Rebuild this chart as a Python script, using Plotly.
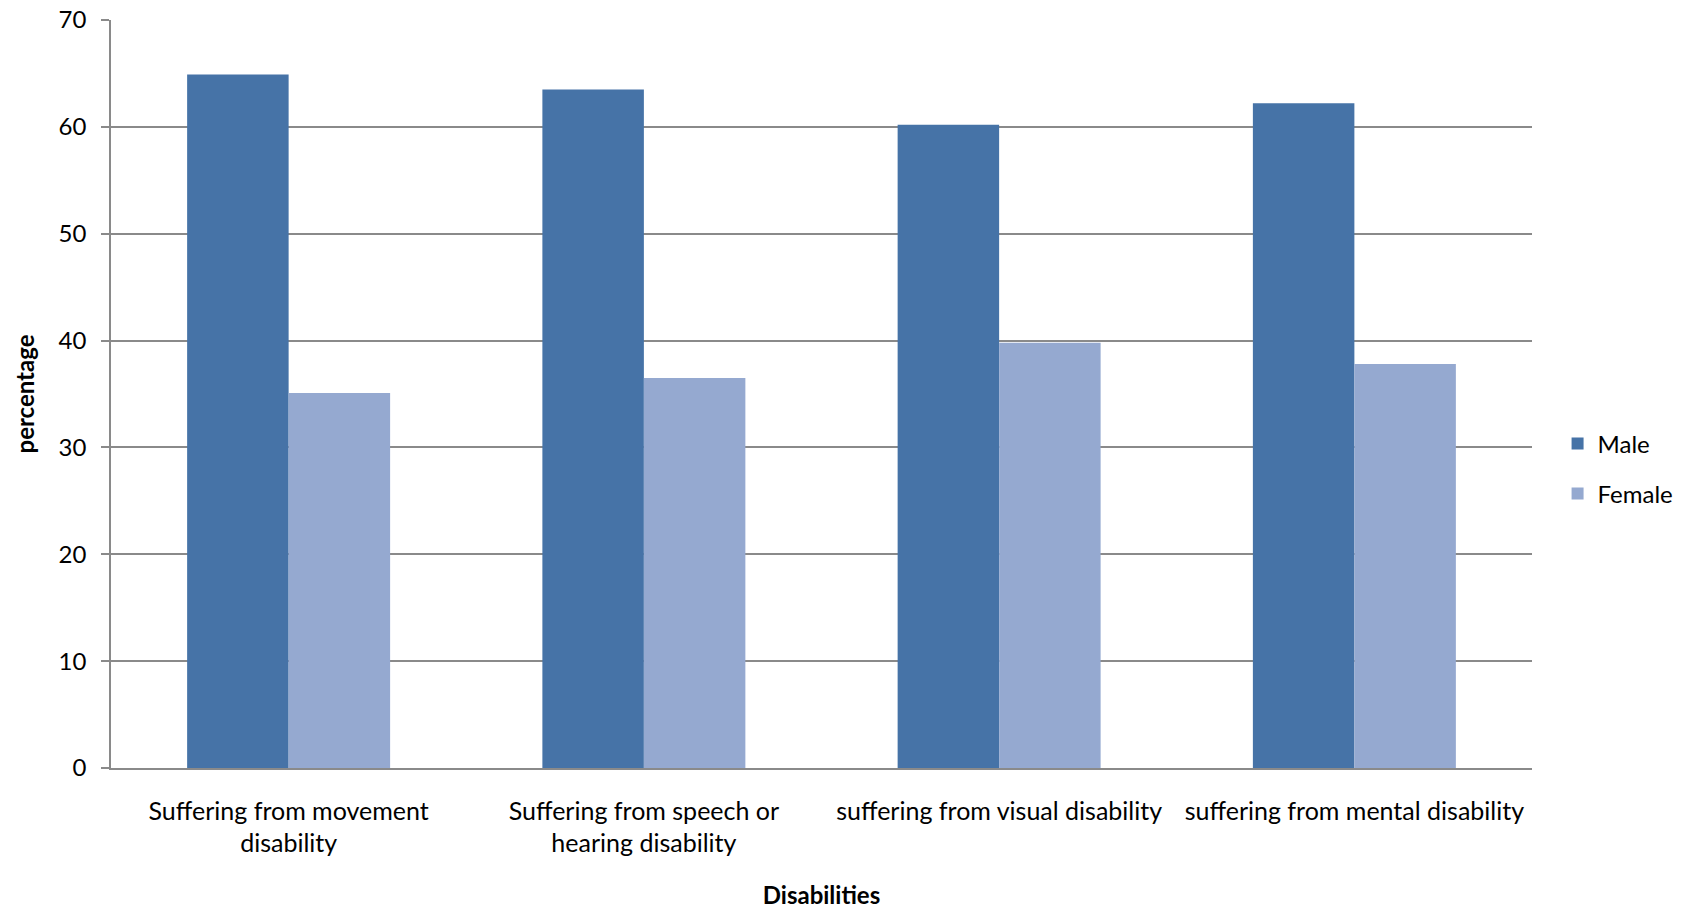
import plotly.graph_objects as go

# Share of people with each disability type, split by sex (percent)
categories = [
    "Suffering from movement<br>disability",
    "Suffering from speech or<br>hearing disability",
    "suffering from visual disability",
    "suffering from mental disability",
]
male = [64.9, 63.5, 60.2, 62.2]
female = [35.1, 36.5, 39.8, 37.8]
y_ticks = [0, 10, 20, 30, 40, 50, 60, 70]

FONT = "Lato, 'Open Sans', 'Noto Sans', sans-serif"
GRID = "#8a8a8a"
FS = 24

fig = go.Figure()
fig.add_trace(go.Bar(name="Male", x=categories, y=male, legendgroup="male",
                     marker=dict(color="#4673a7", line=dict(width=0))))
fig.add_trace(go.Bar(name="Female", x=categories, y=female, legendgroup="female",
                     marker=dict(color="#95a9d0", line=dict(width=0))))

fig.update_layout(
    width=1686, height=909,
    margin=dict(l=111, r=154, t=20, b=141, autoexpand=False),
    paper_bgcolor="white", plot_bgcolor="white",
    font=dict(family=FONT, size=FS, color="#000000"),
    barmode="group", bargap=0.4286, bargroupgap=0,
    showlegend=True,
    legend=dict(x=1.018, y=0.40, xanchor="left", yanchor="middle",
                font=dict(size=FS), itemwidth=30, tracegroupgap=16,
                bgcolor="rgba(0,0,0,0)"),
)

fig.update_xaxes(
    automargin=False,
    showgrid=False, showline=True, linecolor=GRID, linewidth=1.5,
    ticks="", tickfont=dict(size=25), ticklabelstandoff=20,
    title=dict(text="<b>Disabilities</b>", font=dict(size=FS), standoff=31),
)
fig.update_yaxes(
    automargin=False,
    range=[0, 70], tickvals=y_ticks, showgrid=True, gridcolor=GRID, gridwidth=1.5,
    showline=True, linecolor=GRID, linewidth=1.5, zeroline=False,
    ticks="outside", ticklen=8, tickcolor=GRID, tickwidth=1.5,
    tickfont=dict(size=FS), ticklabelstandoff=10,
    title=dict(text="<b>percentage</b>", font=dict(size=FS), standoff=17),
)

fig.write_html("out.html")
